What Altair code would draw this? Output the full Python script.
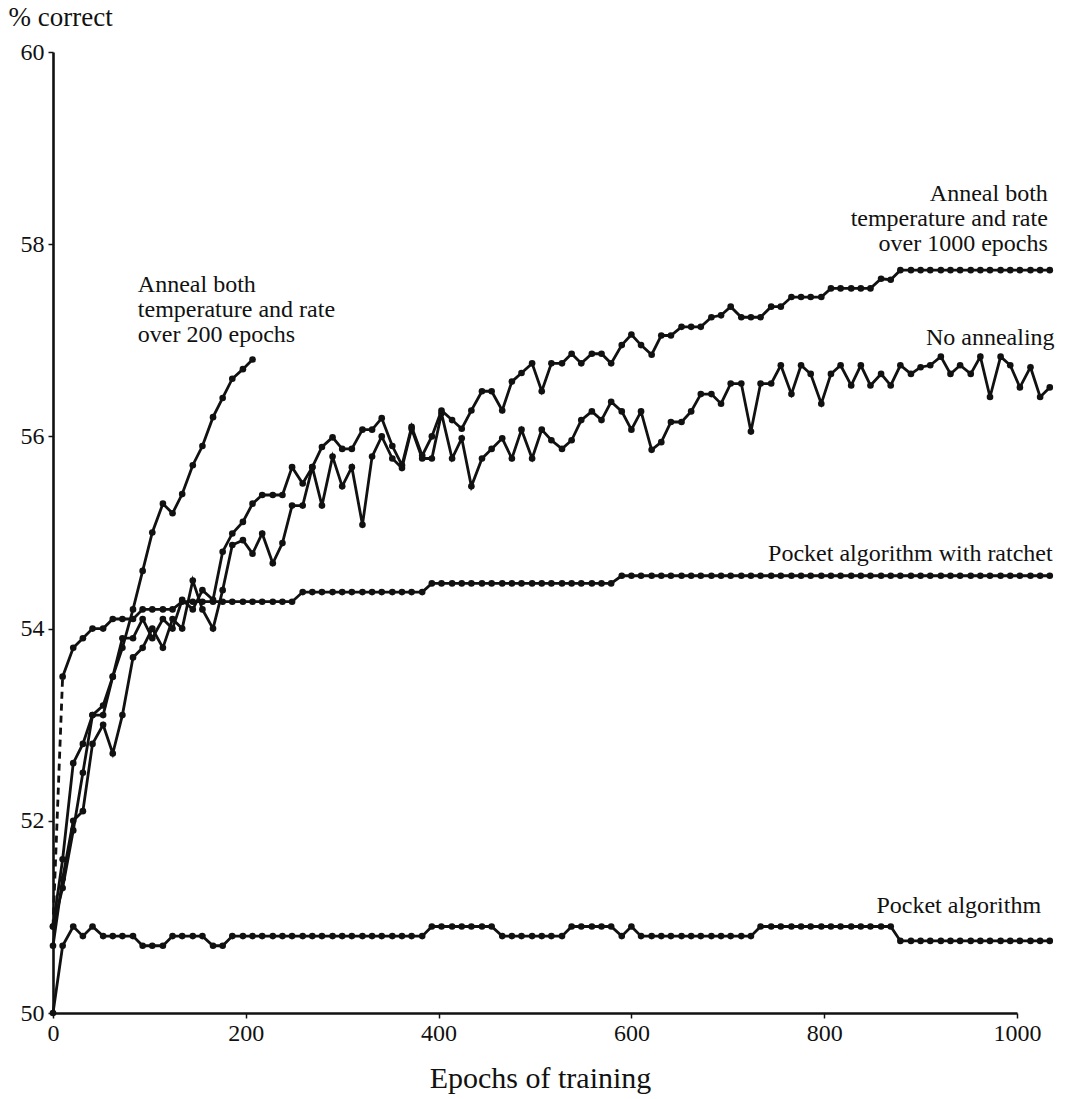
import altair as alt
import pandas as pd

# Epoch at which each reading was taken (shared by all runs)
EPOCHS = [0, 10, 21, 31, 41, 52, 62, 72, 83, 93,
          103, 114, 124, 134, 145, 155, 166, 176, 186, 197,
          207, 217, 228, 238, 248, 259, 269, 279, 290, 300,
          310, 321, 331, 341, 352, 362, 372, 383, 393, 403,
          414, 424, 434, 445, 455, 466, 476, 486, 497, 507,
          517, 528, 538, 548, 559, 569, 579, 590, 600, 610,
          621, 631, 641, 652, 662, 672, 683, 693, 703, 714,
          724, 734, 745, 755, 766, 776, 786, 797, 807, 817,
          828, 838, 848, 859, 869, 879, 890, 900, 910, 921,
          931, 941, 952, 962, 972, 983, 993, 1003, 1014, 1024,
          1034]

POCKET = [50.0, 50.7, 50.9, 50.8, 50.9, 50.8, 50.8, 50.8, 50.8, 50.7,
          50.7, 50.7, 50.8, 50.8, 50.8, 50.8, 50.7, 50.7, 50.8, 50.8,
          50.8, 50.8, 50.8, 50.8, 50.8, 50.8, 50.8, 50.8, 50.8, 50.8,
          50.8, 50.8, 50.8, 50.8, 50.8, 50.8, 50.8, 50.8, 50.9, 50.9,
          50.9, 50.9, 50.9, 50.9, 50.9, 50.8, 50.8, 50.8, 50.8, 50.8,
          50.8, 50.8, 50.9, 50.9, 50.9, 50.9, 50.9, 50.8, 50.9, 50.8,
          50.8, 50.8, 50.8, 50.8, 50.8, 50.8, 50.8, 50.8, 50.8, 50.8,
          50.8, 50.9, 50.9, 50.9, 50.9, 50.9, 50.9, 50.9, 50.9, 50.9,
          50.9, 50.9, 50.9, 50.9, 50.9, 50.75, 50.75, 50.75, 50.75, 50.75,
          50.75, 50.75, 50.75, 50.75, 50.75, 50.75, 50.75, 50.75, 50.75, 50.75,
          50.75]

RATCHET = [50.9, 53.5, 53.8, 53.9, 54.0, 54.0, 54.1, 54.1, 54.1, 54.2,
           54.2, 54.2, 54.2, 54.28, 54.28, 54.28, 54.28, 54.28, 54.28, 54.28,
           54.28, 54.28, 54.28, 54.28, 54.28, 54.38, 54.38, 54.38, 54.38, 54.38,
           54.38, 54.38, 54.38, 54.38, 54.38, 54.38, 54.38, 54.38, 54.47, 54.47,
           54.47, 54.47, 54.47, 54.47, 54.47, 54.47, 54.47, 54.47, 54.47, 54.47,
           54.47, 54.47, 54.47, 54.47, 54.47, 54.47, 54.47, 54.55, 54.55, 54.55,
           54.55, 54.55, 54.55, 54.55, 54.55, 54.55, 54.55, 54.55, 54.55, 54.55,
           54.55, 54.55, 54.55, 54.55, 54.55, 54.55, 54.55, 54.55, 54.55, 54.55,
           54.55, 54.55, 54.55, 54.55, 54.55, 54.55, 54.55, 54.55, 54.55, 54.55,
           54.55, 54.55, 54.55, 54.55, 54.55, 54.55, 54.55, 54.55, 54.55, 54.55,
           54.55]

NO_ANNEAL = [50.7, 51.4, 52.0, 52.1, 52.8, 53.0, 52.7, 53.1, 53.7, 53.8,
             54.0, 53.8, 54.1, 54.0, 54.5, 54.2, 54.0, 54.4, 54.87, 54.92,
             54.78, 54.99, 54.68, 54.89, 55.28, 55.28, 55.68, 55.28, 55.79, 55.48,
             55.68, 55.08, 55.79, 56.0, 55.77, 55.67, 56.08, 55.77, 55.77, 56.24,
             55.77, 55.98, 55.48, 55.77, 55.87, 55.98, 55.77, 56.07, 55.77, 56.07,
             55.96, 55.87, 55.96, 56.17, 56.26, 56.17, 56.36, 56.26, 56.07, 56.26,
             55.86, 55.94, 56.15, 56.15, 56.26, 56.44, 56.44, 56.34, 56.55, 56.55,
             56.05, 56.55, 56.55, 56.74, 56.44, 56.74, 56.65, 56.34, 56.65, 56.74,
             56.53, 56.74, 56.53, 56.65, 56.53, 56.74, 56.65, 56.72, 56.74, 56.83,
             56.65, 56.74, 56.65, 56.83, 56.41, 56.83, 56.74, 56.51, 56.72, 56.41,
             56.51]

ANNEAL_1000 = [50.9, 51.3, 51.9, 52.5, 53.1, 53.1, 53.5, 53.9, 53.9, 54.1,
               53.9, 54.1, 54.0, 54.3, 54.2, 54.4, 54.3, 54.8, 54.99, 55.11,
               55.3, 55.39, 55.39, 55.39, 55.68, 55.51, 55.68, 55.89, 55.99, 55.87,
               55.87, 56.07, 56.07, 56.19, 55.9, 55.7, 56.1, 55.8, 56.0, 56.27,
               56.17, 56.08, 56.27, 56.47, 56.47, 56.27, 56.57, 56.66, 56.76, 56.47,
               56.76, 56.76, 56.86, 56.76, 56.86, 56.86, 56.76, 56.95, 57.06, 56.95,
               56.85, 57.05, 57.05, 57.14, 57.14, 57.14, 57.24, 57.26, 57.35, 57.24,
               57.24, 57.24, 57.35, 57.35, 57.45, 57.45, 57.45, 57.45, 57.54, 57.54,
               57.54, 57.54, 57.54, 57.64, 57.63, 57.73, 57.73, 57.73, 57.73, 57.73,
               57.73, 57.73, 57.73, 57.73, 57.73, 57.73, 57.73, 57.73, 57.73, 57.73,
               57.73]

ANNEAL_200 = [50.9, 51.6, 52.6, 52.8, 53.1, 53.2, 53.5, 53.8, 54.2, 54.6,
              55.0, 55.3, 55.2, 55.4, 55.7, 55.9, 56.2, 56.4, 56.6, 56.7,
              56.8]

# Curve annotations
LABEL_TEXT = [
    "Anneal both\ntemperature and rate\nover 200 epochs",
    "Anneal both\ntemperature and rate\nover 1000 epochs",
    "No annealing",
    "Pocket algorithm with ratchet",
    "Pocket algorithm",
]
LABEL_EPOCH = [88, 1032, 1039, 1037, 1025]
LABEL_VALUE = [57.70, 58.65, 57.15, 54.90, 51.24]
LABEL_ALIGN = ["left", "right", "right", "right", "right"]

FONT = "Liberation Serif"
INK = "#111111"

rows = []
for name, vals in [("Pocket algorithm", POCKET),
                   ("No annealing", NO_ANNEAL),
                   ("Anneal 1000", ANNEAL_1000),
                   ("Anneal 200", ANNEAL_200)]:
    for e, v in zip(EPOCHS, vals):
        rows.append({"run": name, "epoch": e, "pct": v})
# Ratchet: first segment drawn dashed, rest solid
for e, v in zip(EPOCHS[1:], RATCHET[1:]):
    rows.append({"run": "Ratchet", "epoch": e, "pct": v})
solid = pd.DataFrame(rows)
dashed = pd.DataFrame({"epoch": EPOCHS[:2], "pct": RATCHET[:2]})

labels = pd.DataFrame({"epoch": LABEL_EPOCH, "pct": LABEL_VALUE,
                       "text": LABEL_TEXT, "align": LABEL_ALIGN})

x_scale = alt.Scale(domain=[0, 1000], nice=False, zero=False)
y_scale = alt.Scale(domain=[50, 60], nice=False, zero=False)

x_enc = alt.X("epoch:Q", scale=x_scale,
              axis=alt.Axis(values=[0, 200, 400, 600, 800, 1000], format="d",
                            title="Epochs of training", titleFontSize=30,
                            titleFont=FONT, titleFontWeight="normal",
                            titleColor=INK, titlePadding=18, titleX=487,
                            labelFont=FONT, labelFontSize=24, labelColor=INK,
                            labelPadding=3, tickSize=5, tickColor=INK,
                            tickWidth=1.5, domainColor=INK, domainWidth=2.6,
                            grid=False, labelFlush=False))
y_enc = alt.Y("pct:Q", scale=y_scale,
              axis=alt.Axis(values=[50, 52, 54, 56, 58, 60], format="d",
                            title="% correct", titleAngle=0, titleAlign="left",
                            titleBaseline="middle", titleX=-45, titleY=-35,
                            titleFont=FONT, titleFontSize=27,
                            titleFontWeight="normal", titleColor=INK,
                            labelFont=FONT, labelFontSize=24, labelColor=INK,
                            labelPadding=4, tickSize=5, tickColor=INK,
                            tickWidth=1.5, domainColor=INK, domainWidth=2.6,
                            grid=False, labelFlush=False))

lines = alt.Chart(solid).mark_line(color=INK, strokeWidth=2.8, clip=False).encode(
    x=x_enc, y=y_enc, detail="run:N", order="epoch:Q")
dots = alt.Chart(solid).mark_circle(color=INK, size=44, opacity=1, clip=False).encode(
    x="epoch:Q", y="pct:Q")
dash = alt.Chart(dashed).mark_line(color=INK, strokeWidth=2.8,
                                   strokeDash=[7, 5], clip=False).encode(
    x="epoch:Q", y="pct:Q")

left_lbl = alt.Chart(labels[labels["align"] == "left"]).mark_text(
    align="left", baseline="top", font=FONT, fontSize=24, lineHeight=25,
    lineBreak="\n", color=INK).encode(x="epoch:Q", y="pct:Q", text="text:N")
right_lbl = alt.Chart(labels[labels["align"] == "right"]).mark_text(
    align="right", baseline="top", font=FONT, fontSize=24, lineHeight=25,
    lineBreak="\n", color=INK).encode(x="epoch:Q", y="pct:Q", text="text:N")

chart = alt.layer(lines, dash, dots, left_lbl, right_lbl).properties(
    width=964, height=961,
    autosize=alt.AutoSizeParams(type="none"),
    padding={"left": 53, "top": 52, "right": 57, "bottom": 86},
    background="white",
).configure_view(stroke=None)

chart.save("out.html", embed_options={"renderer": "svg", "actions": False})
